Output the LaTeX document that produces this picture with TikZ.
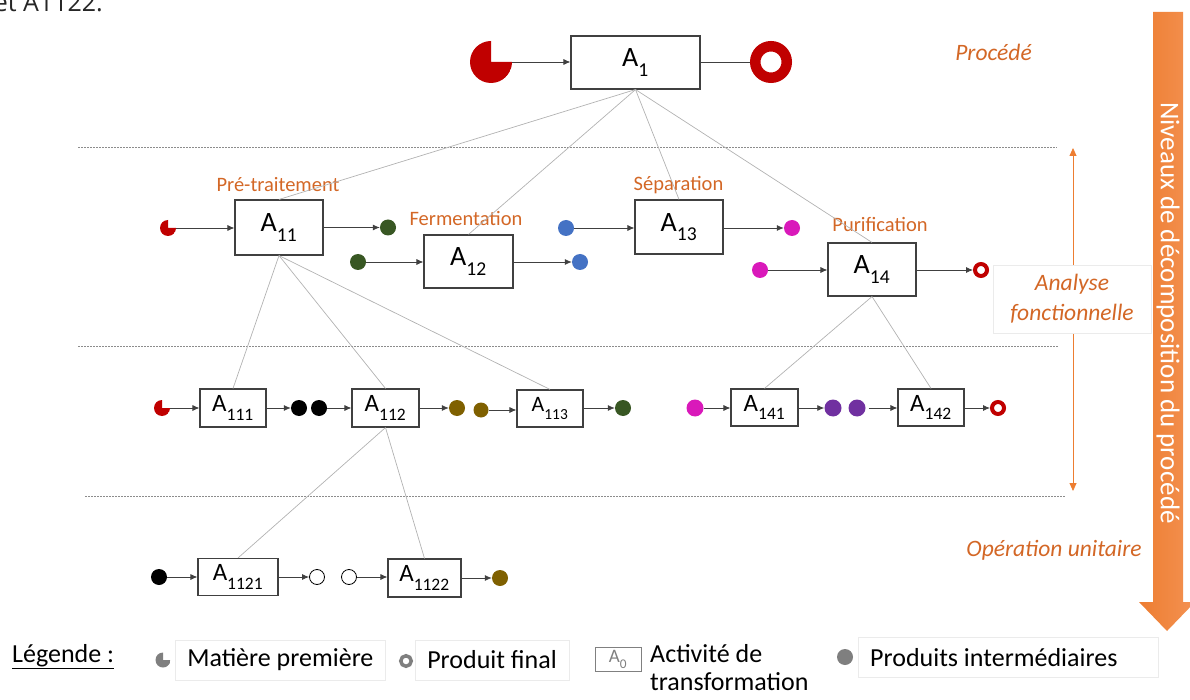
\documentclass[tikz,border=0pt]{standalone}
\usepackage{fontspec}
\setmainfont{Carlito}
\newfontfamily\osans{Open Sans}
\usetikzlibrary{arrows.meta}
\definecolor{redA}{RGB}{192,0,0}
\definecolor{greenA}{RGB}{56,87,35}
\definecolor{blueA}{RGB}{68,114,196}
\definecolor{magA}{RGB}{217,25,186}
\definecolor{purA}{RGB}{112,48,160}
\definecolor{oliveA}{RGB}{127,96,0}
\definecolor{orA}{RGB}{211,103,38}
\definecolor{arrA}{RGB}{237,125,49}
\definecolor{arrB}{RGB}{244,146,82}
\definecolor{legG}{RGB}{127,127,127}
\newcommand\subx[1]{\raisebox{-0.18em}{\textsubscript{#1}}}
\tikzset{
  abox/.style={draw=black!75, line width=1.1pt, fill=white, inner sep=0pt},
  dot/.style={circle, fill=#1, inner sep=0pt, minimum size=16pt},
  wdot/.style={circle, draw=black, line width=0.8pt, fill=white, inner sep=0pt, minimum size=15pt},
  ring/.style={circle, draw=#1, line width=4pt, inner sep=0pt, minimum size=12pt},
  pac/.style 2 args={circle, inner sep=0pt, minimum size={2*#2+0.5},
    path picture={\fill[#1] (path picture bounding box.center) -- ++(#2,0)
      arc[start angle=0, end angle=-270, radius=#2] -- cycle;}},
  flow/.style={draw=black!75, line width=0.8pt, -{Latex[length=7pt,width=6pt]}},
  plain/.style={draw=black!75, line width=0.8pt},
  tree/.style={draw=black!30, line width=0.7pt},
  sep/.style={draw=black!45, line width=0.6pt, dash pattern=on 2pt off 1pt},
  lab/.style={text=orA, font=\fontsize{20.5}{24}\selectfont, inner sep=0pt},
  ilab/.style={text=orA, font=\fontsize{23.5}{30}\selectfont\itshape, inner sep=0pt},
  leg/.style={font=\fontsize{26}{30}\selectfont, inner sep=0pt},
  legbox/.style={draw=black!8, line width=0.6pt, fill=white, inner xsep=12pt, minimum height=40pt, font=\fontsize{26}{30}\selectfont},
  big/.style={font=\fontsize{28}{32}\selectfont},
  mid/.style={font=\fontsize{25}{28}\selectfont},
  sml/.style={font=\fontsize{22}{26}\selectfont}
}
\begin{document}
\begin{tikzpicture}[x=1pt,y=1pt]
\useasboundingbox (0,0) rectangle (1190,-700);

% cut-off text at the top
\node[anchor=base east, inner sep=0pt, font=\osans\fontsize{25}{30}\selectfont, text=black!85] (cut) at (103,-12) {et A1122.};

% separators
\draw[sep] (78,-147) -- (1057,-147);
\draw[sep] (78,-346) -- (1058,-346);
\draw[sep] (85,-496) -- (1065,-496);

% big arrow on the right
\shade[left color=arrA, right color=arrB] (1153,-12) -- (1183,-12) -- (1183,-602) -- (1195,-602) -- (1167,-631) -- (1139,-602) -- (1153,-602) -- cycle;
\node[rotate=-90, text=white, inner sep=0pt, font=\fontsize{27}{30}\selectfont] (lvl) at (1168,-313) {Niveaux de décomposition du procédé};

% orange double arrow
\coordinate (ut) at (1073,-148);
\coordinate (ub) at (1073,-491);
\draw[arrA, line width=0.8pt, {Triangle[length=8pt,width=7pt]}-{Triangle[length=8pt,width=7pt]}] (ut) -- (ub);
\node[draw=black!8, fill=white, line width=0.6pt, minimum width=158pt, minimum height=68pt, align=center, ilab] (af) at (1072,-299) {Analyse\\fonctionnelle};
\node[ilab, anchor=base] (lproc) at (993.5,-61) {Procédé};
\node[ilab, anchor=base] (lop) at (1054,-556) {Opération unitaire};

% level 0
\node[abox, big, minimum width=129pt, minimum height=53pt] (A1) at (635.5,-62.5) {A\subx{1}};
\node[pac={redA}{21}] (p0) at (491,-62) {};
\node[ring=redA, line width=10.5pt, minimum size=31.5pt] (r0) at (771,-62) {};
\draw[flow] (p0) -- (p0 -| A1.west);
\draw[plain] (A1.east |- r0) -- (r0);

% level 1 boxes
\node[abox, big, minimum width=88pt, minimum height=55pt] (A11) at (279,-227.5) {A\subx{11}};
\node[abox, big, minimum width=89pt, minimum height=53pt] (A12) at (468.5,-261.5) {A\subx{12}};
\node[abox, big, minimum width=88pt, minimum height=54pt] (A13) at (679,-227) {A\subx{13}};
\node[abox, big, minimum width=88pt, minimum height=53pt] (A14) at (872,-269.5) {A\subx{14}};

\node[lab, anchor=base] (l11) at (278,-192) {Pré-traitement};
\node[lab, anchor=base] (l12) at (466,-226) {Fermentation};
\node[lab, anchor=base] (l13) at (678.5,-191) {Séparation};
\node[lab, anchor=base] (l14) at (880,-232) {Purification};

% tree lines level 0 -> 1
\draw[tree] (A1.south) -- (A11.north);
\draw[tree] (A1.south) -- (A12.north);
\draw[tree] (A1.south) -- (A13.north);
\draw[tree] (A1.south) -- (A14.north);

% level 1 flows
\node[pac={redA}{8}] (p11) at (168,-228) {};
\node[dot=greenA] (g11) at (388,-227.5) {};
\draw[flow] (p11) -- (p11 -| A11.west);
\draw[flow] (A11.east |- g11) -- (g11);
\node[dot=greenA] (g12) at (358,-262) {};
\node[dot=blueA] (b12) at (580,-262) {};
\draw[flow] (g12) -- (g12 -| A12.west);
\draw[flow] (A12.east |- b12) -- (b12);
\node[dot=blueA] (b13) at (566,-228) {};
\node[dot=magA] (m13) at (792,-228) {};
\draw[flow] (b13) -- (b13 -| A13.west);
\draw[flow] (A13.east |- m13) -- (m13);
\node[dot=magA] (m14) at (760,-270) {};
\node[ring=redA] (r14) at (981,-270) {};
\draw[flow] (m14) -- (m14 -| A14.west);
\draw[flow] (A14.east |- r14) -- (r14);

% level 2 boxes
\node[abox, mid, minimum width=66pt, minimum height=38pt] (A111) at (233,-408) {A\subx{111}};
\node[abox, mid, minimum width=67pt, minimum height=38pt] (A112) at (385.5,-408) {A\subx{112}};
\node[abox, sml, minimum width=66pt, minimum height=37pt] (A113) at (550,-408.5) {A\subx{113}};
\node[abox, mid, minimum width=67pt, minimum height=37pt] (A141) at (764.5,-407.5) {A\subx{141}};
\node[abox, mid, minimum width=66pt, minimum height=37pt] (A142) at (931,-407.5) {A\subx{142}};

\draw[tree] (A11.south) -- (A111.north);
\draw[tree] (A11.south) -- (A112.north);
\draw[tree] (A11.south) -- (A113.north);
\draw[tree] (A14.south) -- (A141.north);
\draw[tree] (A14.south) -- (A142.north);

\node[pac={redA}{8}] (p111) at (162,-408) {};
\node[dot=black] (k1) at (299,-408) {};
\node[dot=black] (k2) at (319,-408) {};
\node[dot=oliveA] (o1) at (457,-408) {};
\node[dot=oliveA, minimum size=15pt] (o2) at (481,-410) {};
\node[dot=greenA] (g113) at (623,-408) {};
\draw[flow] (p111) -- (p111 -| A111.west);
\draw[flow] (A111.east |- k1) -- (k1);
\draw[flow] (k2) -- (k2 -| A112.west);
\draw[flow] (A112.east |- o1) -- (o1);
\draw[flow] (o2) -- (o2 -| A113.west);
\draw[flow] (A113.east |- g113) -- (g113);

\node[dot=magA, minimum size=17pt] (m141) at (695,-408) {};
\node[dot=purA, minimum size=17pt] (u1) at (833,-408) {};
\node[dot=purA, minimum size=17pt] (u2) at (857,-408) {};
\node[ring=redA] (r142) at (998,-408) {};
\draw[flow] (m141) -- (m141 -| A141.west);
\draw[flow] (A141.east |- u1) -- (u1);
\draw[flow, shorten <=3pt] (u2) -- (u2 -| A142.west);
\draw[flow] (A142.east |- r142) -- (r142);

% level 3
\node[abox, mid, minimum width=80pt, minimum height=37pt] (A1121) at (238,-577) {A\subx{1121}};
\node[abox, mid, minimum width=73pt, minimum height=38pt] (A1122) at (424.5,-578) {A\subx{1122}};
\draw[tree] (A112.south) -- (A1121.north);
\draw[tree] (A112.south) -- (A1122.north);
\node[dot=black] (k3) at (159,-577) {};
\node[wdot] (w1) at (317,-577) {};
\node[wdot] (w2) at (349,-577) {};
\node[dot=oliveA] (o3) at (500,-578) {};
\draw[flow] (k3) -- (k3 -| A1121.west);
\draw[flow] (A1121.east |- w1) -- (w1);
\draw[flow] (w2) -- (w2 -| A1122.west);
\draw[flow] (A1122.east |- o3) -- (o3);

% legend
\node[leg, anchor=west] (lg) at (12,-657) {\underline{Légende :}};
\node[pac={legG}{7.5}] (lp) at (163,-660) {};
\node[legbox, anchor=west] (lmp) at (175,-660) {Matière première};
\node[ring=legG, line width=3.5pt, minimum size=10.5pt] (lr) at (406,-661) {};
\node[legbox, anchor=west] (lpf) at (415,-660) {Produit final};
\node[draw=black!50, line width=0.8pt, minimum width=46pt, minimum height=24pt, inner sep=0pt, text=black!50, font=\fontsize{19}{22}\selectfont] (la) at (618,-659) {A\subx{0}};
\node[leg, anchor=north west, align=left, font=\fontsize{26}{28}\selectfont] (lat) at (650,-644) {Activité de\\transformation};
\node[dot=legG] (ld) at (845,-657) {};
\node[draw=black!8, line width=0.6pt, fill=white, minimum width=300pt, minimum height=40pt, inner sep=0pt] (lpi) at (1008,-657.5) {};
\node[leg, anchor=west] (lpit) at (870,-657.5) {Produits intermédiaires};
\end{tikzpicture}
\end{document}
